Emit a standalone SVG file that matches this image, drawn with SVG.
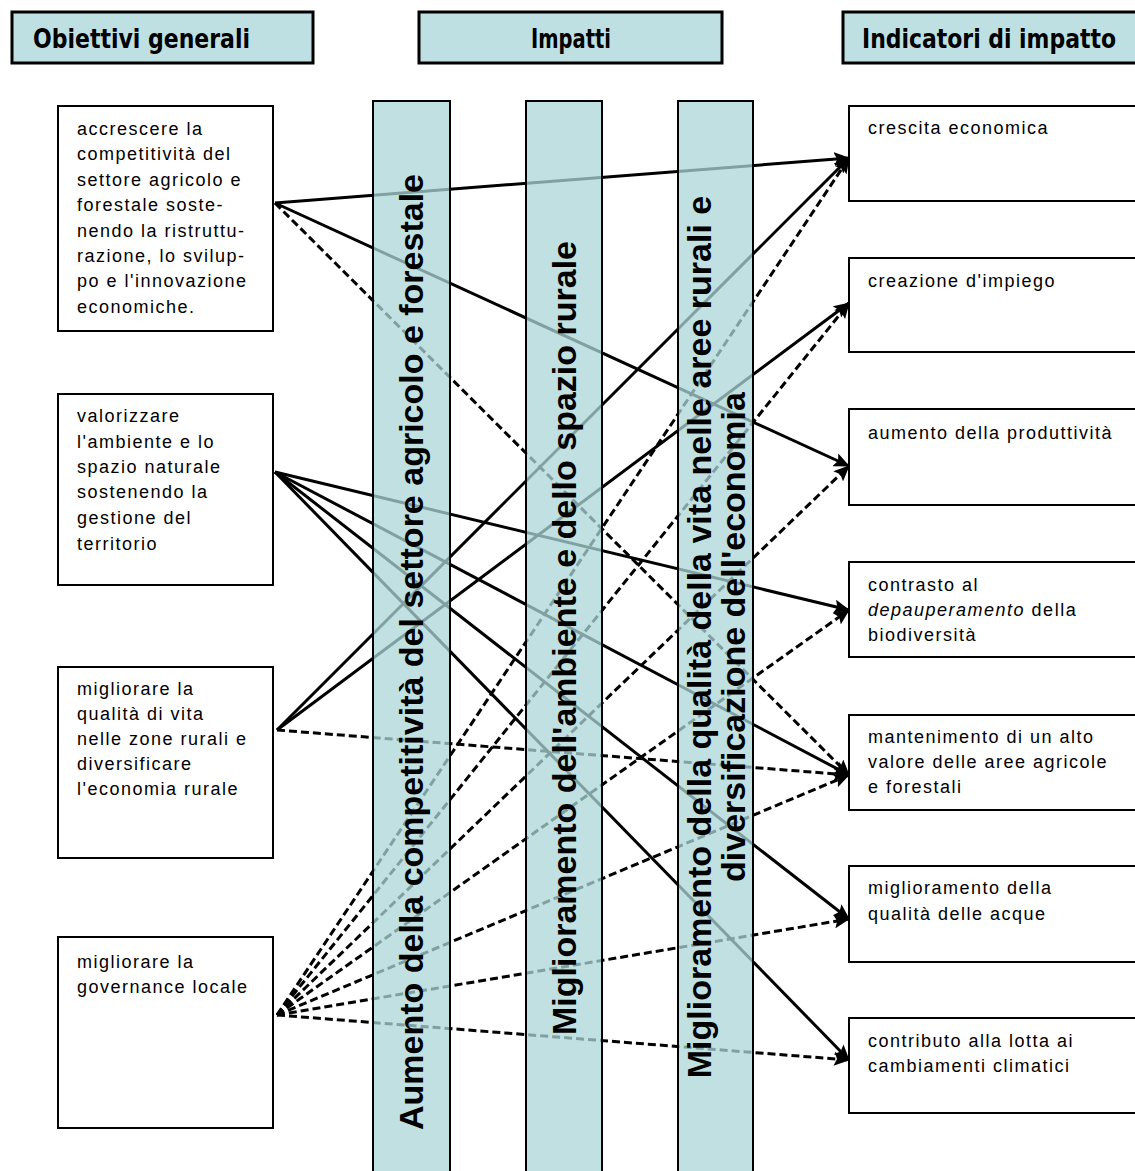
<svg xmlns="http://www.w3.org/2000/svg" width="1135" height="1171" viewBox="0 0 1135 1171">
<style>
.hdr{fill:#bee0e3;stroke:#000;stroke-width:3}
.htxt{font-family:"DejaVu Sans Condensed","Liberation Sans Narrow","Liberation Sans",sans-serif;font-weight:bold;font-size:26px;fill:#000}
.box{fill:#fff;stroke:#000;stroke-width:2}
.txt{font-family:"Liberation Sans",Arial,sans-serif;font-size:18px;letter-spacing:1.5px;fill:#000}
.bar{fill:rgb(171,213,216);fill-opacity:0.75;stroke:#000;stroke-width:2}
.btxt{font-family:"Liberation Sans",Arial,sans-serif;font-weight:bold;font-size:34px;fill:#000;text-anchor:middle}
.sol{fill:none;stroke:#000;stroke-width:3}
.dsh{fill:none;stroke:#000;stroke-width:3;stroke-dasharray:8 4}
</style>
<defs>
<marker id="ah" markerUnits="userSpaceOnUse" markerWidth="16" markerHeight="14" refX="15" refY="7" orient="auto">
<path d="M0,0 L16,7 L0,14 L3,7 z" fill="#000"/>
</marker>
</defs>
<rect width="1135" height="1171" fill="#fff"/>

<g id="headers">
<g id="h1"><rect class="hdr" x="12" y="12" width="301" height="51"/><text class="htxt" x="33" y="48" textLength="217" lengthAdjust="spacingAndGlyphs">Obiettivi generali</text></g>
<g id="h2"><rect class="hdr" x="419" y="12" width="303" height="51"/><text class="htxt" x="531" y="48" textLength="80" lengthAdjust="spacingAndGlyphs">Impatti</text></g>
<g id="h3"><rect class="hdr" x="843" y="12" width="310" height="51"/><text class="htxt" x="862" y="48" textLength="254" lengthAdjust="spacingAndGlyphs">Indicatori di impatto</text></g>
</g>

<g id="connectors">
<path class="sol" d="M275,203 L849,158" marker-end="url(#ah)"/>
<path class="sol" d="M275,203 L849,466" marker-end="url(#ah)"/>
<path class="sol" d="M275,472 L849,610" marker-end="url(#ah)"/>
<path class="sol" d="M275,472 L849,775" marker-end="url(#ah)"/>
<path class="sol" d="M275,472 L849,919" marker-end="url(#ah)"/>
<path class="sol" d="M275,472 L849,1060" marker-end="url(#ah)"/>
<path class="sol" d="M277,730 L849,158" marker-end="url(#ah)"/>
<path class="sol" d="M277,730 L849,303" marker-end="url(#ah)"/>
<path class="dsh" d="M275,203 L849,775" marker-end="url(#ah)"/>
<path class="dsh" d="M277,730 L849,775" marker-end="url(#ah)"/>
<path class="dsh" d="M277,1015 L849,158" marker-end="url(#ah)"/>
<path class="dsh" d="M277,1015 L849,303" marker-end="url(#ah)"/>
<path class="dsh" d="M277,1015 L849,466" marker-end="url(#ah)"/>
<path class="dsh" d="M277,1015 L849,610" marker-end="url(#ah)"/>
<path class="dsh" d="M277,1015 L849,775" marker-end="url(#ah)"/>
<path class="dsh" d="M277,1015 L849,919" marker-end="url(#ah)"/>
<path class="dsh" d="M277,1015 L849,1060" marker-end="url(#ah)"/>
</g>

<g id="impact1"><rect class="bar" x="373" y="101" width="77" height="1090"/>
<text class="btxt" transform="translate(423,652) rotate(-90)">Aumento della competitività del settore agricolo e forestale</text></g>
<g id="impact2"><rect class="bar" x="526" y="101" width="76" height="1090"/>
<text class="btxt" transform="translate(576,638) rotate(-90)">Miglioramento dell'ambiente e dello spazio rurale</text></g>
<g id="impact3"><rect class="bar" x="678" y="101" width="75" height="1090"/>
<text class="btxt" transform="translate(711,637) rotate(-90)">Miglioramento della qualità della vita nelle aree rurali e</text>
<text class="btxt" transform="translate(745,637) rotate(-90)">diversificazione dell'economia</text></g>

<g id="obj1"><rect class="box" x="58" y="106" width="215" height="225"/>
<text class="txt" x="77" y="135">accrescere la</text>
<text class="txt" x="77" y="160">competitività del</text>
<text class="txt" x="77" y="186">settore agricolo e</text>
<text class="txt" x="77" y="211">forestale soste-</text>
<text class="txt" x="77" y="237">nendo la ristruttu-</text>
<text class="txt" x="77" y="262">razione, lo svilup-</text>
<text class="txt" x="77" y="287">po e l'innovazione</text>
<text class="txt" x="77" y="313">economiche.</text></g>
<g id="obj2"><rect class="box" x="58" y="394" width="215" height="191"/>
<text class="txt" x="77" y="422">valorizzare</text>
<text class="txt" x="77" y="448">l'ambiente e lo</text>
<text class="txt" x="77" y="473">spazio naturale</text>
<text class="txt" x="77" y="498">sostenendo la</text>
<text class="txt" x="77" y="524">gestione del</text>
<text class="txt" x="77" y="550">territorio</text></g>
<g id="obj3"><rect class="box" x="58" y="667" width="215" height="191"/>
<text class="txt" x="77" y="695">migliorare la</text>
<text class="txt" x="77" y="720">qualità di vita</text>
<text class="txt" x="77" y="745">nelle zone rurali e</text>
<text class="txt" x="77" y="770">diversificare</text>
<text class="txt" x="77" y="795">l'economia rurale</text></g>
<g id="obj4"><rect class="box" x="58" y="937" width="215" height="191"/>
<text class="txt" x="77" y="968">migliorare la</text>
<text class="txt" x="77" y="993">governance locale</text></g>

<g id="ind1"><rect class="box" x="849" y="106" width="300" height="95"/>
<text class="txt" x="868" y="134">crescita economica</text></g>
<g id="ind2"><rect class="box" x="849" y="258" width="300" height="94"/>
<text class="txt" x="868" y="287">creazione d'impiego</text></g>
<g id="ind3"><rect class="box" x="849" y="409" width="300" height="96"/>
<text class="txt" x="868" y="439">aumento della produttività</text></g>
<g id="ind4"><rect class="box" x="849" y="562" width="300" height="95"/>
<text class="txt" x="868" y="591">contrasto al</text>
<text class="txt" x="868" y="616"><tspan font-style="italic">depauperamento</tspan> della</text>
<text class="txt" x="868" y="641">biodiversità</text></g>
<g id="ind5"><rect class="box" x="849" y="715" width="300" height="95"/>
<text class="txt" x="868" y="743">mantenimento di un alto</text>
<text class="txt" x="868" y="768">valore delle aree agricole</text>
<text class="txt" x="868" y="793">e forestali</text></g>
<g id="ind6"><rect class="box" x="849" y="866" width="300" height="96"/>
<text class="txt" x="868" y="894">miglioramento della</text>
<text class="txt" x="868" y="920">qualità delle acque</text></g>
<g id="ind7"><rect class="box" x="849" y="1018" width="300" height="95"/>
<text class="txt" x="868" y="1047">contributo alla lotta ai</text>
<text class="txt" x="868" y="1072">cambiamenti climatici</text></g>
</svg>
